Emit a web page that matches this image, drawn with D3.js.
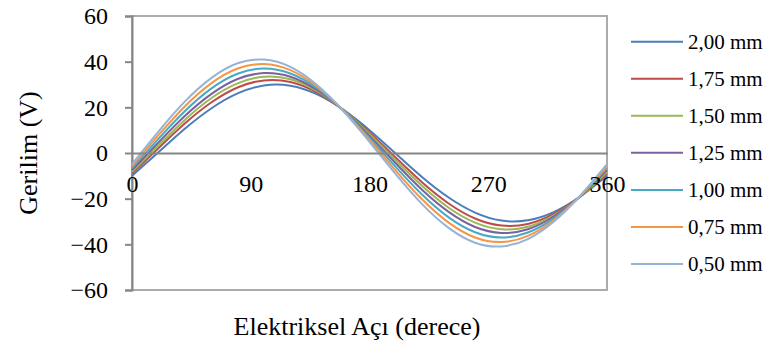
<!DOCTYPE html>
<html>
<head>
<meta charset="utf-8">
<script src="https://cdn.jsdelivr.net/npm/d3@7"></script>
<style>
  html, body { margin: 0; padding: 0; background: #fff; }
  svg { display: block; }
  text { font-family: "Liberation Serif", "Times New Roman", serif; fill: #000; }
</style>
</head>
<body>
<svg id="chart" width="768" height="345"></svg>
<script>
// Electrical angle samples (degrees)
const angles = [0, 20, 40, 60, 80, 100, 120, 140, 160, 180, 200, 220, 240, 260, 280, 300, 320, 340, 360];

// Induced voltage (V) per air-gap setting
const v200 = [-10.0, 0.3, 10.6, 19.5, 26.1, 29.6, 29.5, 25.8, 19.0, 10.0, -0.3, -10.6, -19.5, -26.1, -29.6, -29.5, -25.8, -19.0, -10.0];
const v175 = [-9.0, 2.1, 12.9, 22.1, 28.7, 31.8, 31.1, 26.6, 18.9, 9.0, -2.1, -12.9, -22.1, -28.7, -31.8, -31.1, -26.6, -18.9, -9.0];
const v150 = [-8.3, 3.3, 14.5, 24.0, 30.5, 33.4, 32.3, 27.2, 18.9, 8.3, -3.3, -14.5, -24.0, -30.5, -33.4, -32.3, -27.2, -18.9, -8.3];
const v125 = [-7.5, 4.6, 16.2, 25.8, 32.4, 35.0, 33.4, 27.7, 18.8, 7.5, -4.6, -16.2, -25.8, -32.4, -35.0, -33.4, -27.7, -18.8, -7.5];
const v100 = [-6.6, 6.2, 18.3, 28.2, 34.7, 37.0, 34.8, 28.5, 18.7, 6.6, -6.2, -18.3, -28.2, -34.7, -37.0, -34.8, -28.5, -18.7, -6.6];
const v075 = [-5.8, 7.8, 20.4, 30.5, 37.0, 39.0, 36.3, 29.2, 18.6, 5.8, -7.8, -20.4, -30.5, -37.0, -39.0, -36.3, -29.2, -18.6, -5.8];
const v050 = [-4.9, 9.4, 22.5, 32.8, 39.3, 40.9, 37.7, 29.9, 18.5, 4.9, -9.4, -22.5, -32.8, -39.3, -40.9, -37.7, -29.9, -18.5, -4.9];

const seriesNames = ["2,00 mm", "1,75 mm", "1,50 mm", "1,25 mm", "1,00 mm", "0,75 mm", "0,50 mm"];
const seriesValues = [v200, v175, v150, v125, v100, v075, v050];
const seriesColors = ["#4A7EBB", "#BE4B48", "#98B954", "#7D60A0", "#46AAC5", "#F69545", "#95B3D7"];

const xTicks = [0, 90, 180, 270, 360];
const yTicks = [-60, -40, -20, 0, 20, 40, 60];

const svg = d3.select("#chart");
const plot = { left: 132, right: 607, top: 16, bottom: 290 };

const x = d3.scaleLinear().domain([0, 360]).range([plot.left, plot.right]);
const y = d3.scaleLinear().domain([-60, 60]).range([plot.bottom, plot.top]);

// Plot area frame
svg.append("rect")
  .attr("x", plot.left).attr("y", plot.top)
  .attr("width", plot.right - plot.left).attr("height", plot.bottom - plot.top)
  .attr("fill", "none").attr("stroke", "#ababab").attr("stroke-width", 2);

// Y axis
const yAxis = svg.append("g")
  .attr("transform", `translate(${plot.left},0)`)
  .call(d3.axisLeft(y).tickValues(yTicks).tickSize(7).tickPadding(17).tickFormat(d3.format("d")));
yAxis.select(".domain").attr("stroke", "#868686").attr("stroke-width", 2);
yAxis.selectAll(".tick line").attr("stroke", "#868686").attr("stroke-width", 2);
yAxis.selectAll(".tick text")
  .attr("font-size", 24).attr("font-family", "Liberation Serif, serif")
  .attr("fill", "#000").attr("dy", "0.33em");

// X axis crossing at zero
const xAxis = svg.append("g")
  .attr("transform", `translate(0,${y(0)})`)
  .call(d3.axisBottom(x).tickValues(xTicks).tickSize(0).tickPadding(22).tickFormat(d3.format("d")));
xAxis.select(".domain").attr("stroke", "#868686").attr("stroke-width", 2);
xAxis.selectAll(".tick text")
  .attr("font-size", 24).attr("font-family", "Liberation Serif, serif")
  .attr("fill", "#000");

// Voltage curves
const line = d3.line()
  .x((d, i) => x(angles[i]))
  .y(d => y(d))
  .curve(d3.curveNatural);

svg.append("g").selectAll("path")
  .data(seriesValues)
  .join("path")
  .attr("d", d => line(d))
  .attr("fill", "none")
  .attr("stroke", (d, i) => seriesColors[i])
  .attr("stroke-width", 2);

// keep tick labels above curves
xAxis.raise();

// Axis titles
svg.append("text")
  .attr("x", 357).attr("y", 335)
  .attr("text-anchor", "middle")
  .attr("font-size", 26)
  .text("Elektriksel Açı (derece)");

svg.append("text")
  .attr("transform", "translate(37,153) rotate(-90)")
  .attr("text-anchor", "middle")
  .attr("font-size", 26)
  .text("Gerilim (V)");

// Legend
const legend = svg.append("g");
const rowY = i => 41.7 + i * 37.05;
seriesNames.forEach((name, i) => {
  legend.append("line")
    .attr("x1", 631).attr("x2", 683)
    .attr("y1", rowY(i)).attr("y2", rowY(i))
    .attr("stroke", seriesColors[i]).attr("stroke-width", 2);
  legend.append("text")
    .attr("x", 688).attr("y", rowY(i))
    .attr("dy", "0.33em")
    .attr("font-size", 21)
    .text(name);
});
</script>
</body>
</html>
